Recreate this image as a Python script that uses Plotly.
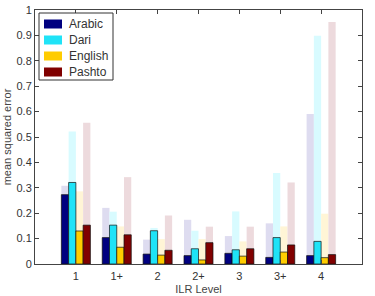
import plotly.graph_objects as go

levels = ["1", "1+", "2", "2+", "3", "3+", "4"]
languages = ["Arabic", "Dari", "English", "Pashto"]

# foreground (dark) values
arabic = [0.273, 0.104, 0.039, 0.033, 0.042, 0.026, 0.033]
dari = [0.321, 0.153, 0.131, 0.060, 0.056, 0.104, 0.089]
english = [0.130, 0.066, 0.035, 0.016, 0.031, 0.047, 0.025]
pashto = [0.153, 0.115, 0.054, 0.084, 0.060, 0.075, 0.037]

# background (faded) values
arabic_bg = [0.308, 0.221, 0.096, 0.174, 0.110, 0.160, 0.591]
dari_bg = [0.522, 0.206, 0.142, 0.131, 0.207, 0.358, 0.899]
english_bg = [0.286, 0.148, 0.098, 0.098, 0.089, 0.148, 0.198]
pashto_bg = [0.556, 0.342, 0.191, 0.147, 0.147, 0.321, 0.953]

fg = [arabic, dari, english, pashto]
bg = [arabic_bg, dari_bg, english_bg, pashto_bg]
dark_colors = ["#000080", "#1fe3f7", "#ffcc00", "#800000"]
light_colors = ["#dedcf0", "#d8fbff", "#fff5d6", "#eddadd"]

fig = go.Figure()
for i, lang in enumerate(languages):
    fig.add_trace(go.Bar(
        x=levels, y=bg[i], name=lang + " (bg)", offsetgroup=str(i),
        marker=dict(color=light_colors[i], line=dict(width=0)),
        showlegend=False, hoverinfo="skip"))
for i, lang in enumerate(languages):
    fig.add_trace(go.Bar(
        x=levels, y=fg[i], name=lang, offsetgroup=str(i), showlegend=False,
        marker=dict(color=dark_colors[i], line=dict(color="#111111", width=0.7))))

# legend drawn in paper coordinates (box, swatches, labels)
PL, PR, PT, PB = 35, 362, 10, 264
def px(x):
    return (x - PL) / (PR - PL)
def py(y):
    return (PB - y) / (PB - PT)

shapes = [dict(type="rect", xref="paper", yref="paper",
               x0=px(39), x1=px(113), y0=py(80), y1=py(13),
               line=dict(color="#333333", width=1), fillcolor="white", layer="above")]
annotations = []
for i, lang in enumerate(languages):
    cy = 24 + 16 * i
    shapes.append(dict(type="rect", xref="paper", yref="paper",
                       x0=px(44), x1=px(62), y0=py(cy + 4.5), y1=py(cy - 4.5),
                       line=dict(width=0), fillcolor=dark_colors[i], layer="above"))
    annotations.append(dict(xref="paper", yref="paper", x=px(67), y=py(cy),
                            xanchor="left", yanchor="middle", showarrow=False,
                            text=lang, font=dict(size=12, color="#333333")))

axis_common = dict(showline=True, linecolor="#444444", linewidth=1, mirror="ticks",
                   ticks="inside", ticklen=4, tickcolor="#444444", showgrid=False,
                   zeroline=False, automargin=False,
                   tickfont=dict(size=11, color="#333333"))

fig.update_layout(
    width=375, height=296,
    margin=dict(l=PL, r=375 - PR, t=PT, b=296 - PB),
    paper_bgcolor="white", plot_bgcolor="white",
    font=dict(family="Liberation Sans, Arial, sans-serif", color="#333333"),
    barmode="group", bargap=0.29, bargroupgap=0,
    showlegend=False,
    shapes=shapes, annotations=annotations,
    xaxis=dict(type="category", range=[-1, 7], ticklabelstandoff=2,
               title=dict(text="ILR Level", font=dict(size=11, color="#444444"), standoff=4),
               **axis_common),
    yaxis=dict(range=[0, 1], dtick=0.1, tickformat="~g",
               title=dict(text="mean squared error", font=dict(size=11, color="#444444"), standoff=2),
               **axis_common),
)

fig.write_html("out.html")
